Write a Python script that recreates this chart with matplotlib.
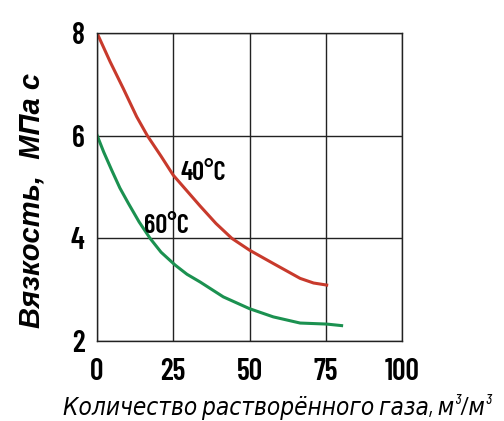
import matplotlib.pyplot as plt

# viscosity vs dissolved gas
gas_40 = [0, 4.3, 8.6, 13, 16.5, 21, 25, 27.2, 31.6, 33.8, 39, 44.2, 50, 57.8, 66.6, 71, 75.3]
visc_40 = [8.0, 7.44, 6.92, 6.37, 6.0, 5.6, 5.23, 5.08, 4.78, 4.63, 4.29, 4.0, 3.77, 3.51, 3.22, 3.13, 3.09]

gas_60 = [0, 2.2, 4.8, 7.5, 10.3, 13.8, 17.4, 21, 25.6, 29.5, 33.8, 41.4, 50, 57.8, 66.6, 75.3, 80.2]
visc_60 = [6.01, 5.68, 5.33, 4.98, 4.68, 4.32, 4.0, 3.73, 3.48, 3.30, 3.15, 2.86, 2.63, 2.47, 2.35, 2.33, 2.30]

x_ticks = [0, 25, 50, 75, 100]
y_ticks = [2, 4, 6, 8]

narrow = ['Barlow Condensed', 'DejaVu Sans']

fig = plt.figure(figsize=(5.04, 4.21), dpi=100)
ax = fig.add_axes([0.1925, 0.19, 0.6051, 0.7316])

ax.plot(gas_40, visc_40, color='#c83a2c', lw=2.2, solid_joinstyle='round')
ax.plot(gas_60, visc_60, color='#1b9150', lw=2.2, solid_joinstyle='round')

ax.set_xlim(0, 100)
ax.set_ylim(2, 8)
ax.set_xticks(x_ticks)
ax.set_yticks(y_ticks)
ax.grid(True, color='#222222', lw=1)
for s in ax.spines.values():
    s.set_color('#222222')
    s.set_linewidth(1)
ax.tick_params(axis='y', length=0, pad=9)
ax.tick_params(axis='x', length=0, pad=12)
for lab in ax.get_xticklabels() + ax.get_yticklabels():
    lab.set_family(narrow)
    lab.set_fontstretch('condensed')
    lab.set_fontsize(21.5)
    lab.set_fontweight(600)

ax.text(27.3, 5.27, '40°C', fontsize=19, fontweight=600, family=narrow,
        fontstretch='condensed', va='center', ha='left')
ax.text(15.5, 4.24, '60°C', fontsize=19, fontweight=600, family=narrow,
        fontstretch='condensed', va='center', ha='left')

fig.text(0.063, 0.525, 'Вязкость,  МПа с', rotation=90, fontsize=21,
         family=['Liberation Sans', 'DejaVu Sans'], fontweight='bold',
         fontstyle='italic', ha='center', va='center')
fig.text(63 / 504, 0.014, 'Количество растворённого газа, м³/м³', fontsize=17.5,
         family=narrow, fontstretch='condensed', fontstyle='italic',
         ha='left', va='baseline')

fig.savefig('out.png', dpi=100)
